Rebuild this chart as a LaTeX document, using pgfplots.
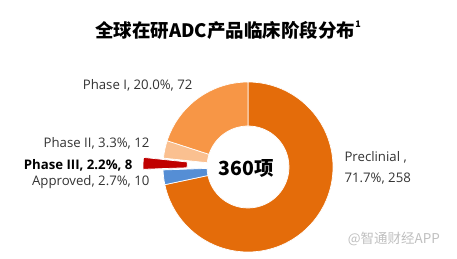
\documentclass[border=0pt]{standalone}
\usepackage{fontspec}
\setmainfont{Open Sans}
\newfontfamily\cjk{Noto Sans CJK SC}
\usepackage{pgfplots}
\usepackage{pgfplotstable}
\pgfplotsset{compat=1.18}
\usetikzlibrary{calc}
\definecolor{c1}{HTML}{E46C0A}
\definecolor{c2}{HTML}{F79646}
\definecolor{c3}{HTML}{FAC090}
\definecolor{c4}{HTML}{C00000}
\definecolor{c5}{HTML}{558ED5}
\pgfplotstableread{
label value color explode
Preclinial 258 c1 0
Approved 10 c5 0
PhaseIII 8 c4 1
PhaseII 12 c3 0
PhaseI 72 c2 0
}\adcdata
\begin{document}
\begin{tikzpicture}
\useasboundingbox (0,0) rectangle (457pt,259pt);
\begin{axis}[at={(0,0)},anchor=south west,scale only axis,width=457pt,height=259pt,
  xmin=0,xmax=457,ymin=0,ymax=259,hide axis,clip=false]
\pgfplotsextra{%
  \pgfplotstablegetrowsof{\adcdata}\pgfmathtruncatemacro\last{\pgfplotsretval-1}%
  \xdef\total{0}%
  \foreach \i in {0,...,\last}{%
    \pgfplotstablegetelem{\i}{value}\of\adcdata\let\v\pgfplotsretval
    \pgfmathsetmacro\t{\total+\v}\xdef\total{\t}}%
  \xdef\cum{0}%
  \foreach \i in {0,...,\last}{%
    \pgfplotstablegetelem{\i}{value}\of\adcdata\let\v\pgfplotsretval
    \pgfplotstablegetelem{\i}{color}\of\adcdata\let\col\pgfplotsretval
    \pgfplotstablegetelem{\i}{explode}\of\adcdata\let\ex\pgfplotsretval
    \pgfmathsetmacro\a{90-\cum/\total*360}%
    \pgfmathsetmacro\b{90-(\cum+\v)/\total*360}%
    \pgfmathsetmacro\m{(\a+\b)/2}%
    \pgfmathsetmacro\off{\ex*20}%
    \path (axis cs:248,92) ++(\m:\off pt) coordinate (O);
    \fill[fill=\col, draw=white, line width=0.7pt] ($(O)+(\a:85pt)$) arc[start angle=\a, end angle=\b, radius=85pt] -- ($(O)+(\b:41pt)$) arc[start angle=\b, end angle=\a, radius=41pt] -- cycle;
    \pgfmathsetmacro\c{\cum+\v}\xdef\cum{\c}%
  }%
}
\node[font=\cjk\bfseries\fontsize{18.5}{20}\selectfont] at (axis cs:228,229) {全球在研ADC产品临床阶段分布\raisebox{0.55em}{\fontsize{9}{10}\selectfont 1}};
\node[font=\cjk\bfseries\fontsize{19.5}{22}\selectfont] at (axis cs:246,91) {360项};
\node[font=\fontsize{13.2}{15}\selectfont,text=black!80,anchor=west] at (axis cs:341,102) {Preclinial ,};
\node[font=\fontsize{13.2}{15}\selectfont,text=black!80,anchor=west] at (axis cs:341,80) {71.7\%, 258};
\node[font=\fontsize{13.2}{15}\selectfont,text=black!80,anchor=east] at (axis cs:196,174) {Phase I, 20.0\%, 72};
\node[font=\fontsize{13.2}{15}\selectfont,text=black!80,anchor=east] at (axis cs:153,116) {Phase II, 3.3\%, 12};
\node[font=\bfseries\fontsize{13.2}{15}\selectfont,anchor=east] at (axis cs:136,94) {Phase III, 2.2\%, 8};
\node[font=\fontsize{13.2}{15}\selectfont,text=black!80,anchor=east] at (axis cs:153,77) {Approved, 2.7\%, 10};
\node[font=\cjk\fontsize{13.5}{15}\selectfont,text=black!25] at (axis cs:394,20) {@智通财经APP};
\end{axis}
\end{tikzpicture}
\end{document}
